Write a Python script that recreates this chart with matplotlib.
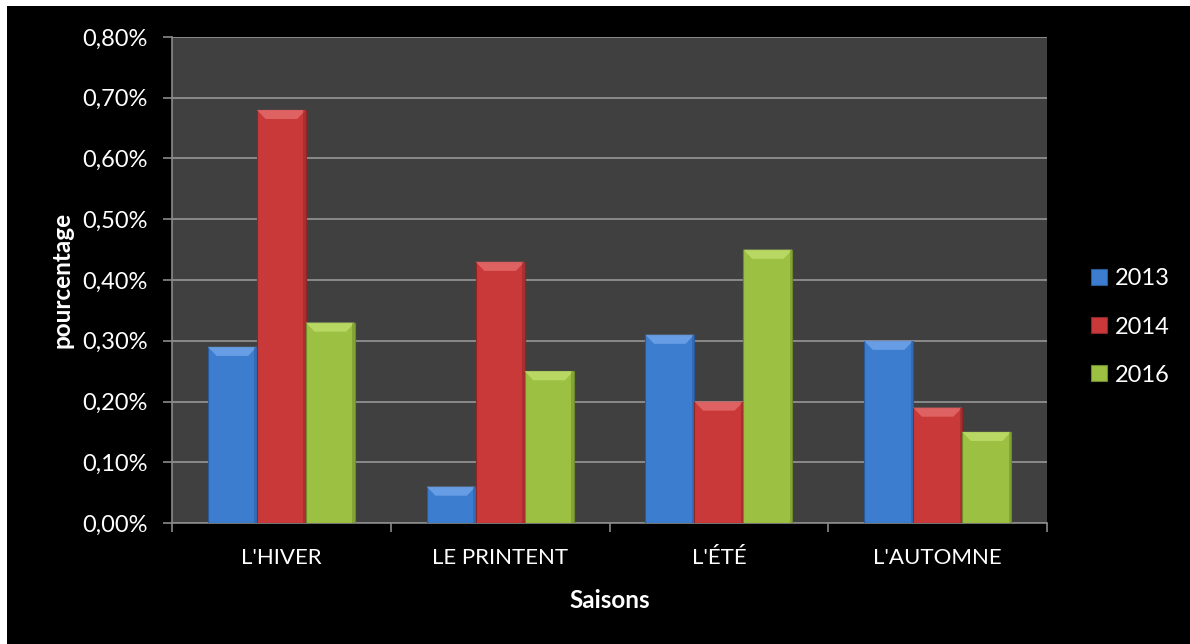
import matplotlib
matplotlib.use("Agg")
import matplotlib.pyplot as plt
from matplotlib.patches import Rectangle, Polygon
from matplotlib.ticker import FuncFormatter, MultipleLocator, FixedLocator
import numpy as np

categories = ["L'HIVER", "LE PRINTENT", "L'ÉTÉ", "L'AUTOMNE"]
series_names = ["2013", "2014", "2016"]
v2013 = [0.29, 0.06, 0.31, 0.30]
v2014 = [0.68, 0.43, 0.20, 0.19]
v2016 = [0.33, 0.25, 0.45, 0.15]
series_values = [v2013, v2014, v2016]

colors = ["#3D7DCF", "#C9393A", "#9BC042"]
edges = ["#2A5A9A", "#8E2626", "#6E8A2C"]
tops = ["#6FA3E8", "#E46A6A", "#BEDD6A"]

plt.rcParams['font.family'] = ['Lato', 'DejaVu Sans']

W, H = 1190, 644
fig = plt.figure(figsize=(W / 100, H / 100), dpi=100, facecolor="white")
fig.patches.append(Rectangle((7 / W, 0), 1 - 7 / W, 1 - 6 / H, transform=fig.transFigure,
                             facecolor="black", edgecolor="none", zorder=-10))

ax = fig.add_axes([172 / W, 1 - 523 / H, (1047 - 172) / W, (523 - 37) / H])
ax.set_facecolor("#404040")

n = len(series_names)
bw = 0.224
x = np.arange(len(categories))
handles = []
for i, (name, vals) in enumerate(zip(series_names, series_values)):
    offs = (i - (n - 1) / 2) * bw
    bars = ax.bar(x + offs, vals, width=bw, color=colors[i], edgecolor=edges[i],
                  linewidth=0.8, zorder=3, label=name)
    handles.append(bars)
    for b in bars:
        bx, by, w, h = b.get_x(), b.get_y(), b.get_width(), b.get_height()
        dx = 0.04
        dy = min(0.015, h * 0.3)
        poly = Polygon([(bx, by + h), (bx + w, by + h), (bx + w - dx, by + h - dy), (bx + dx, by + h - dy)],
                       closed=True, facecolor=tops[i], edgecolor="none", zorder=4, alpha=0.85)
        ax.add_patch(poly)
        ax.add_patch(Rectangle((bx + w - 0.012, by), 0.012, h, facecolor=edges[i],
                               edgecolor="none", alpha=0.5, zorder=4))

ax.set_xlim(-0.5, len(categories) - 0.5)
ax.set_ylim(0, 0.8)
ax.yaxis.set_major_locator(MultipleLocator(0.1))
ax.yaxis.set_major_formatter(FuncFormatter(lambda v, p: f"{v:.2f}%".replace('.', ',')))
ax.grid(axis='y', color="#8A8A8A", linewidth=1.4, zorder=1)
ax.set_axisbelow(True)

ax.set_xticks(x)
ax.set_xticklabels(categories)
ax.xaxis.set_minor_locator(FixedLocator(np.arange(-0.5, len(categories), 1.0)))
ax.tick_params(axis='x', which='major', length=0, pad=18, labelsize=16, colors="white")
ax.tick_params(axis='x', which='minor', length=6.5, color="#8A8A8A", width=1.2)
ax.tick_params(axis='y', length=6.5, color="#8A8A8A", width=1.2, labelsize=17, labelcolor="white", pad=11)

for s in ["top", "right"]:
    ax.spines[s].set_visible(False)
ax.spines["left"].set_color("#8A8A8A")
ax.spines["left"].set_linewidth(1.2)
ax.spines["bottom"].set_color("#8A8A8A")
ax.spines["bottom"].set_linewidth(1.2)

ax.set_xlabel("Saisons", color="white", fontsize=17.5, fontweight="bold", labelpad=15)
ax.set_ylabel("pourcentage", color="white", fontsize=17.5, fontweight="bold", labelpad=6)

leg = fig.legend(handles=handles, labels=series_names, loc="center left",
                 bbox_to_anchor=(1070 / W, 1 - 327 / H), frameon=False,
                 fontsize=17, labelcolor="white", handlelength=0.68, handleheight=0.68,
                 labelspacing=1.15, handletextpad=0.3)

fig.savefig("out.png", dpi=100, facecolor=fig.get_facecolor())
